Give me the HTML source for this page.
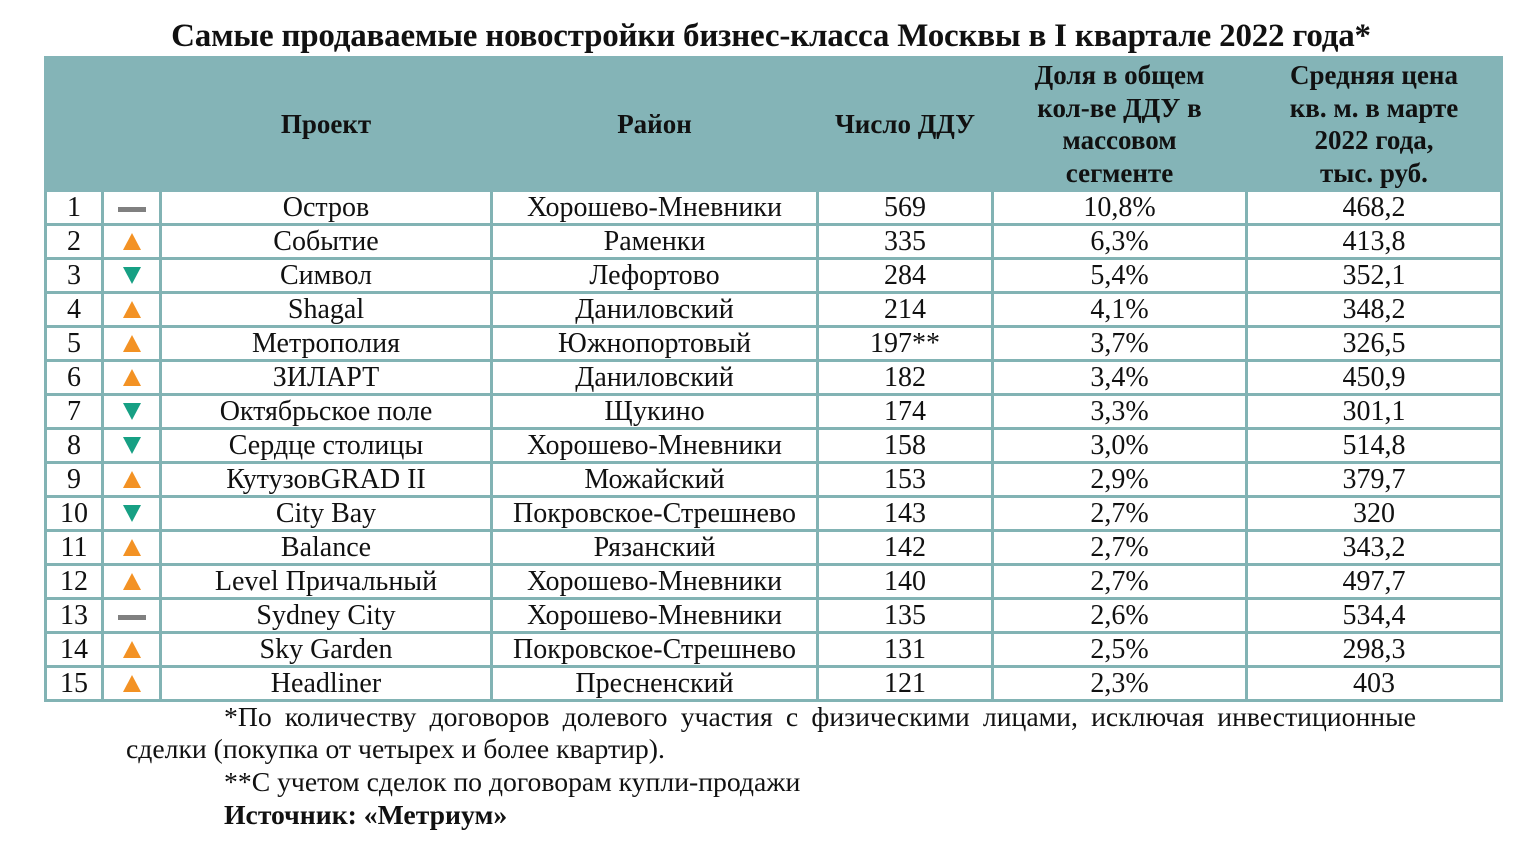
<!DOCTYPE html>
<html><head><meta charset="utf-8"><style>
body{margin:0;width:1534px;height:850px;background:#fff;font-family:"Liberation Serif",serif;color:#111;position:relative;overflow:hidden}
.t{position:absolute;left:0;top:16px;width:1542px;text-align:center;font-weight:bold;font-size:33px;letter-spacing:-0.2px;line-height:40px}
table{position:absolute;left:44px;top:56px;border-collapse:collapse;table-layout:fixed}
td{border:3px solid #82b3b4;text-align:center;font-size:28px;height:31px;padding:0;line-height:31px;white-space:nowrap}
tr.h td{background:#84b4b7;font-weight:bold;height:129px;line-height:32.5px;font-size:27px;border-color:#84b4b7}
.up{display:inline-block;width:0;height:0;border-left:9px solid transparent;border-right:9px solid transparent;border-bottom:17px solid #f39224}
.dn{display:inline-block;width:0;height:0;border-left:9px solid transparent;border-right:9px solid transparent;border-top:17px solid #17a084}
.eq{display:inline-block;width:28px;height:5px;background:#808080;vertical-align:middle}
.n{position:absolute;font-size:27.7px;line-height:32px}
</style></head><body>
<div class="t">Самые продаваемые новостройки бизнес-класса Москвы в I квартале 2022 года*</div>
<table>
<colgroup><col style="width:57px"><col style="width:58px"><col style="width:331px"><col style="width:326px"><col style="width:175px"><col style="width:254px"><col style="width:255px"></colgroup>
<tr class="h"><td></td><td></td><td>Проект</td><td>Район</td><td>Число ДДУ</td><td>Доля в общем<br>кол-ве ДДУ в<br>массовом<br>сегменте</td><td>Средняя цена<br>кв. м. в марте<br>2022 года,<br>тыс. руб.</td></tr>
<tr><td>1</td><td><span class="eq"></span></td><td>Остров</td><td>Хорошево-Мневники</td><td>569</td><td>10,8%</td><td>468,2</td></tr>
<tr><td>2</td><td><span class="up"></span></td><td>Событие</td><td>Раменки</td><td>335</td><td>6,3%</td><td>413,8</td></tr>
<tr><td>3</td><td><span class="dn"></span></td><td>Символ</td><td>Лефортово</td><td>284</td><td>5,4%</td><td>352,1</td></tr>
<tr><td>4</td><td><span class="up"></span></td><td>Shagal</td><td>Даниловский</td><td>214</td><td>4,1%</td><td>348,2</td></tr>
<tr><td>5</td><td><span class="up"></span></td><td>Метрополия</td><td>Южнопортовый</td><td>197**</td><td>3,7%</td><td>326,5</td></tr>
<tr><td>6</td><td><span class="up"></span></td><td>ЗИЛАРТ</td><td>Даниловский</td><td>182</td><td>3,4%</td><td>450,9</td></tr>
<tr><td>7</td><td><span class="dn"></span></td><td>Октябрьское поле</td><td>Щукино</td><td>174</td><td>3,3%</td><td>301,1</td></tr>
<tr><td>8</td><td><span class="dn"></span></td><td>Сердце столицы</td><td>Хорошево-Мневники</td><td>158</td><td>3,0%</td><td>514,8</td></tr>
<tr><td>9</td><td><span class="up"></span></td><td>КутузовGRAD II</td><td>Можайский</td><td>153</td><td>2,9%</td><td>379,7</td></tr>
<tr><td>10</td><td><span class="dn"></span></td><td>City Bay</td><td>Покровское-Стрешнево</td><td>143</td><td>2,7%</td><td>320</td></tr>
<tr><td>11</td><td><span class="up"></span></td><td>Balance</td><td>Рязанский</td><td>142</td><td>2,7%</td><td>343,2</td></tr>
<tr><td>12</td><td><span class="up"></span></td><td>Level Причальный</td><td>Хорошево-Мневники</td><td>140</td><td>2,7%</td><td>497,7</td></tr>
<tr><td>13</td><td><span class="eq"></span></td><td>Sydney City</td><td>Хорошево-Мневники</td><td>135</td><td>2,6%</td><td>534,4</td></tr>
<tr><td>14</td><td><span class="up"></span></td><td>Sky Garden</td><td>Покровское-Стрешнево</td><td>131</td><td>2,5%</td><td>298,3</td></tr>
<tr><td>15</td><td><span class="up"></span></td><td>Headliner</td><td>Пресненский</td><td>121</td><td>2,3%</td><td>403</td></tr>
</table>
<div class="n" style="left:224px;top:701px;width:1192px;text-align:justify;text-align-last:justify">*По количеству договоров долевого участия с физическими лицами, исключая инвестиционные</div>
<div class="n" style="left:126px;top:733px">сделки (покупка от четырех и более квартир).</div>
<div class="n" style="left:224px;top:766px">**С учетом сделок по договорам купли-продажи</div>
<div class="n" style="left:224px;top:799px;font-weight:bold">Источник: «Метриум»</div>
</body></html>
